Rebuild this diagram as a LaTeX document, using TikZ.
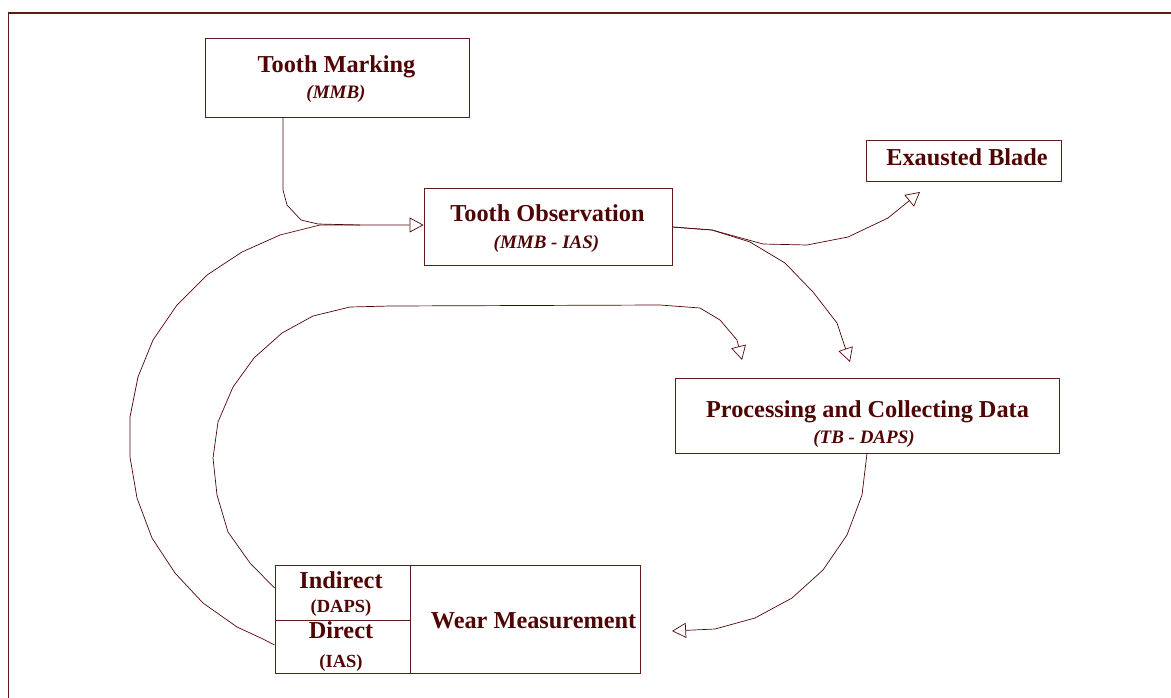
\documentclass[tikz,border=0pt]{standalone}
\usepackage{fontspec}
\setmainfont{Liberation Serif}
\usetikzlibrary{arrows.meta}
\definecolor{maroon}{RGB}{80,5,5}
\definecolor{lmaroon}{RGB}{100,25,25}
\tikzset{
  box/.style={draw=lmaroon, line width=0.9pt, inner sep=0pt},
  ttl/.style={text=maroon, font=\fontsize{24.3}{28}\selectfont\bfseries, anchor=base, inner sep=0pt},
  sub/.style={text=maroon, font=\fontsize{19}{22}\selectfont\bfseries\itshape, anchor=base, inner sep=0pt},
  subup/.style={text=maroon, font=\fontsize{18.5}{22}\selectfont\bfseries, anchor=base, inner sep=0pt},
  conn/.style={draw=maroon, line width=0.7pt, -{Triangle[open,length=14pt,width=15pt]}},
}
\begin{document}
\begin{tikzpicture}[x=1pt,y=-1pt]
\useasboundingbox (0,0) rectangle (1171,697);
% frame
\draw[draw=lmaroon, line width=1.6pt] (8.5,720) -- (8.5,13) -- (1200,13);
% boxes
\node[box, minimum width=264pt, minimum height=79pt] (tm) at (337,77.5) {};
\node[box, minimum width=248pt, minimum height=77pt] (obs) at (548,226.5) {};
\node[box, minimum width=195pt, minimum height=41pt] (eb) at (963.5,160.5) {};
\node[box, minimum width=384pt, minimum height=75pt] (proc) at (867,415.5) {};
\node[box, minimum width=135pt, minimum height=55pt] (ind) at (342.5,592.5) {};
\node[box, minimum width=135pt, minimum height=53pt] (dir) at (342.5,646.5) {};
\node[box, minimum width=230pt, minimum height=108pt] (wm) at (525,619) {};
% texts
\node[ttl] (tmt) at (336.5,72) {Tooth Marking};
\node[sub] (tms) at (336,98) {(MMB)};
\node[ttl] (obst) at (547.5,221) {Tooth Observation};
\node[sub] (obss) at (546.5,248) {(MMB - IAS)};
\node[ttl] (ebt) at (967,165) {Exausted Blade};
\node[ttl] (proct) at (867.5,417) {Processing and Collecting Data};
\node[sub] (procs) at (864,443) {(TB - DAPS)};
\node[ttl] (indt) at (341,588) {Indirect};
\node[subup] (inds) at (341,612) {(DAPS)};
\node[ttl] (dirt) at (341,638) {Direct};
\node[subup] (dirs) at (341,667) {(IAS)};
\node[ttl] (wmt) at (533.5,628) {Wear Measurement};
% connectors
\draw[conn] (tm.south -| 283,0) -- (283,190) -- (287,205) -- (301,220) -- (318,224) -- (360,225) -- (obs.west |- 0,225);
\draw[draw=maroon, line width=0.7pt] (dir.west |- 0,645) -- (263,639) -- (237,627) -- (203,603) -- (175,573) -- (152,538) -- (137,498) -- (130,457) -- (130,417) -- (138,377) -- (153,340) -- (177,305) -- (207,275) -- (242,252) -- (280,235) -- (320,225) -- (360,225);
\draw[conn] (obs.east |- 0,227) -- (712,230) -- (763,244) -- (807,245) -- (848,237) -- (888,218) -- (920,192);
\draw[conn] (obs.east |- 0,227) -- (712,230) -- (750,242) -- (785,263) -- (813,292) -- (837,323) -- (850,362);
\draw[conn] (ind.west |- 0,588) -- (250,563) -- (228,532) -- (217,495) -- (213,458) -- (218,422) -- (233,387) -- (254,358) -- (282,333) -- (313,316) -- (350,307) -- (390,306) -- (660,305) -- (700,308) -- (720,320) -- (737,340) -- (742,360);
\draw[conn] (proc.south -| 867,0) -- (862,495) -- (847,535) -- (823,570) -- (792,598) -- (755,618) -- (715,629) -- (672,631);
\end{tikzpicture}
\end{document}
